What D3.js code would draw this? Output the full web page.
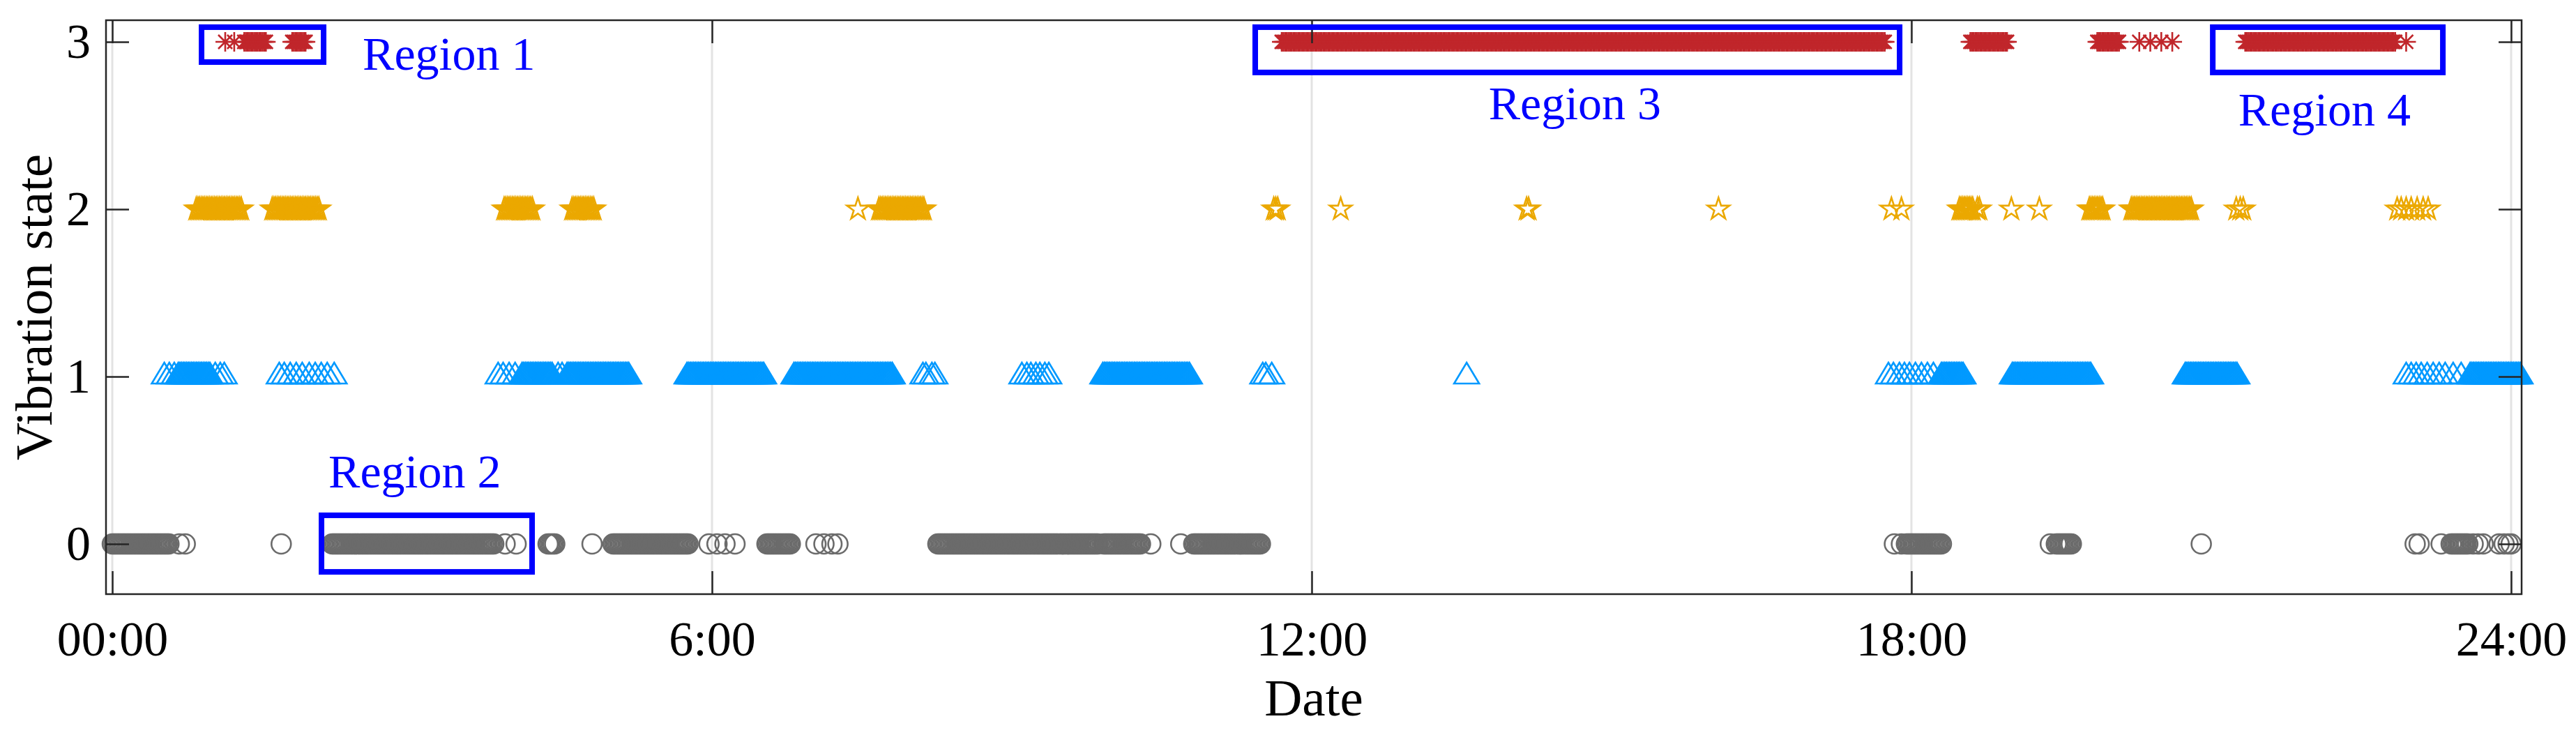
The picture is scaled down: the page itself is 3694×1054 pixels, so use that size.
<!DOCTYPE html>
<html>
<head>
<meta charset="utf-8">
<script src="https://cdn.jsdelivr.net/npm/d3@7"></script>
<style>
  body { margin: 0; background: #fff; }
  svg { display: block; font-family: "Liberation Serif", "Times New Roman", serif; }
</style>
</head>
<body>
<div id="chart"></div>
<script>
// Vibration state over one day.
// Each state is stored as runs [start, end] (hours) where the logger reported
// that state every minute, plus isolated readings.
const SAMPLE_STEP = 1 / 60; // logger interval, 1 min

const state0Runs = [[0.0, 0.57], [2.20, 3.82], [4.36, 4.44], [5.01, 5.76], [6.55, 6.79],
  [8.26, 9.86], [9.92, 10.30], [10.82, 11.50], [17.95, 18.31], [19.45, 19.60], [23.40, 23.58]];
const state0Points = [0.67, 0.73, 1.69, 3.93, 4.04, 4.80, 5.97, 6.05, 6.13, 6.23, 7.04, 7.12,
  7.20, 7.26, 10.39, 10.69, 17.83, 17.90, 19.39, 20.90, 23.04, 23.08, 23.30, 23.62, 23.67,
  23.72, 23.88, 23.93, 23.97, 24.0];

const state1Runs = [[0.66, 0.98], [4.10, 4.40], [4.55, 5.18], [5.75, 6.52], [6.82, 7.81],
  [9.91, 10.79], [18.30, 18.52], [19.01, 19.80], [20.74, 21.26], [23.59, 24.09]];
const state1Points = [0.52, 0.57, 0.62, 1.03, 1.08, 1.12, 1.67, 1.72, 1.78, 1.84, 1.90, 1.97,
  2.03, 2.09, 2.15, 2.22, 3.86, 3.91, 3.97, 4.03, 4.46, 4.50, 8.11, 8.14, 8.20, 8.23, 9.10,
  9.15, 9.19, 9.24, 9.28, 9.33, 9.37, 11.51, 11.54, 11.60, 13.55, 17.77, 17.82, 17.88, 17.93,
  17.98, 18.04, 18.10, 18.16, 18.22, 22.95, 23.00, 23.05, 23.10, 23.16, 23.22, 23.28, 23.34,
  23.42, 23.50];

const state2Runs = [[0.84, 1.29], [1.60, 2.07], [3.92, 4.21], [4.60, 4.83], [7.67, 8.13],
  [18.48, 18.62], [19.78, 19.92], [20.20, 20.80]];
const state2Points = [7.46, 11.62, 11.64, 11.66, 12.29, 14.15, 14.17, 16.07, 17.80, 17.90,
  18.66, 18.68, 19.00, 19.28, 21.25, 21.29, 21.32, 22.86, 22.90, 22.95, 23.00, 23.06, 23.12, 23.17];

const state3Runs = [[1.32, 1.55], [1.80, 1.94], [11.70, 17.74], [18.59, 18.96], [19.86, 20.09],
  [21.34, 22.85]];
const state3Points = [1.13, 1.22, 20.28, 20.39, 20.50, 20.61, 22.95];

const xTicks = [0, 6, 12, 18, 24];
const xTickLabels = ["00:00", "6:00", "12:00", "18:00", "24:00"];
const yTicks = [0, 1, 2, 3];

// annotation boxes in data units: [x0, x1, yBottom, yTop]
const regionNames = ["Region 1", "Region 2", "Region 3", "Region 4"];
const regionBoxes = [[0.893, 2.114, 2.879, 3.0875], [2.093, 4.200, -0.167, 0.171],
  [11.435, 17.882, 2.817, 3.0875], [21.015, 23.317, 2.817, 3.0875]];
const regionLabelAt = [[2.505, 2.833], [2.163, 0.3375], [13.77, 2.5375], [21.27, 2.50]];

function expand(runs, points) {
  const t = [];
  runs.forEach(([a, b]) => {
    for (let v = a; v <= b + 1e-9; v += SAMPLE_STEP) t.push(v);
  });
  return t.concat(points);
}

const W = 3694, H = 1054;
const svg = d3.select('#chart').append('svg')
  .attr('width', W).attr('height', H);
svg.append('rect').attr('width', W).attr('height', H).attr('fill', '#fff');

const x = d3.scaleLinear().domain([-0.063, 24.105]).range([152, 3616]);
const y = d3.scaleLinear().domain([-0.3, 3.129]).range([852, 29]);
const [x0, x1] = x.range();
const [yb, yt] = y.range();

// grid
svg.append('g').selectAll('line').data(xTicks).enter().append('line')
  .attr('x1', d => x(d)).attr('x2', d => x(d))
  .attr('y1', yt).attr('y2', yb)
  .attr('stroke', '#e3e3e3').attr('stroke-width', 3);

// markers
const starPath = (() => {
  const R = 16.5, r = R * 0.382;
  const pts = d3.range(10).map(i => {
    const a = -Math.PI / 2 + i * Math.PI / 5;
    const rr = i % 2 === 0 ? R : r;
    return [rr * Math.cos(a), rr * Math.sin(a)];
  });
  return 'M' + pts.map(p => p.join(',')).join('L') + 'Z';
})();
const triPath = 'M0,-20L18,10L-18,10Z';
const astPath = 'M-14,0H14M0,-14V14M-10,-10L10,10M-10,10L10,-10';

const plot = svg.append('g');

plot.append('g').selectAll('circle').data(expand(state0Runs, state0Points)).enter()
  .append('circle')
  .attr('cx', d => x(d)).attr('cy', y(0)).attr('r', 14)
  .attr('fill', 'none').attr('stroke', '#6b6b6b').attr('stroke-width', 2.6);

plot.append('g').selectAll('path').data(expand(state1Runs, state1Points)).enter()
  .append('path')
  .attr('d', triPath)
  .attr('transform', d => `translate(${x(d)},${y(1)})`)
  .attr('fill', 'none').attr('stroke', '#0099ff').attr('stroke-width', 2.6);

plot.append('g').selectAll('path').data(expand(state2Runs, state2Points)).enter()
  .append('path')
  .attr('d', starPath)
  .attr('transform', d => `translate(${x(d)},${y(2)})`)
  .attr('fill', 'none').attr('stroke', '#eba800').attr('stroke-width', 2.6);

plot.append('g').selectAll('path').data(expand(state3Runs, state3Points)).enter()
  .append('path')
  .attr('d', astPath)
  .attr('transform', d => `translate(${x(d)},${y(3)})`)
  .attr('fill', 'none').attr('stroke', '#c0262b').attr('stroke-width', 2.6);

// axes (ticks point inward, MATLAB box style)
const fmt = d => xTickLabels[xTicks.indexOf(d)];
const gx = svg.append('g').attr('transform', `translate(0,${yb})`)
  .call(d3.axisBottom(x).tickValues(xTicks).tickFormat(fmt).tickSizeInner(-33).tickSizeOuter(0).tickPadding(38));
const gxTop = svg.append('g').attr('transform', `translate(0,${yt})`)
  .call(d3.axisTop(x).tickValues(xTicks).tickFormat('').tickSizeInner(-33).tickSizeOuter(0));
const gy = svg.append('g').attr('transform', `translate(${x0},0)`)
  .call(d3.axisLeft(y).tickValues(yTicks).tickFormat(d3.format('d'))
    .tickSizeInner(-33).tickSizeOuter(0).tickPadding(22));
const gyRight = svg.append('g').attr('transform', `translate(${x1},0)`)
  .call(d3.axisRight(y).tickValues(yTicks).tickFormat('').tickSizeInner(-33).tickSizeOuter(0));

[gx, gxTop, gy, gyRight].forEach(g => {
  g.select('.domain').remove();
  g.selectAll('.tick line').attr('stroke', '#262626').attr('stroke-width', 2.5);
  g.selectAll('.tick text').attr('fill', '#000').attr('font-size', 70)
    .attr('font-family', '"Liberation Serif", serif');
});

svg.append('rect')
  .attr('x', x0).attr('y', yt).attr('width', x1 - x0).attr('height', yb - yt)
  .attr('fill', 'none').attr('stroke', '#262626').attr('stroke-width', 2.5);

// axis titles
svg.append('text')
  .attr('x', (x0 + x1) / 2).attr('y', 1026)
  .attr('text-anchor', 'middle').attr('font-size', 75).text('Date');
svg.append('text')
  .attr('transform', `translate(74,${(yt + yb) / 2}) rotate(-90)`)
  .attr('text-anchor', 'middle').attr('font-size', 75).text('Vibration state');

// region annotations
const ann = svg.append('g');
ann.selectAll('rect').data(regionBoxes).enter().append('rect')
  .attr('x', d => x(d[0])).attr('y', d => y(d[3]))
  .attr('width', d => x(d[1]) - x(d[0])).attr('height', d => y(d[2]) - y(d[3]))
  .attr('fill', 'none').attr('stroke', '#0000ff').attr('stroke-width', 8);
ann.selectAll('text').data(regionNames).enter().append('text')
  .attr('x', (d, i) => x(regionLabelAt[i][0]))
  .attr('y', (d, i) => y(regionLabelAt[i][1]))
  .attr('fill', '#0000ff').attr('font-size', 68)
  .text(d => d);
</script>
</body>
</html>
